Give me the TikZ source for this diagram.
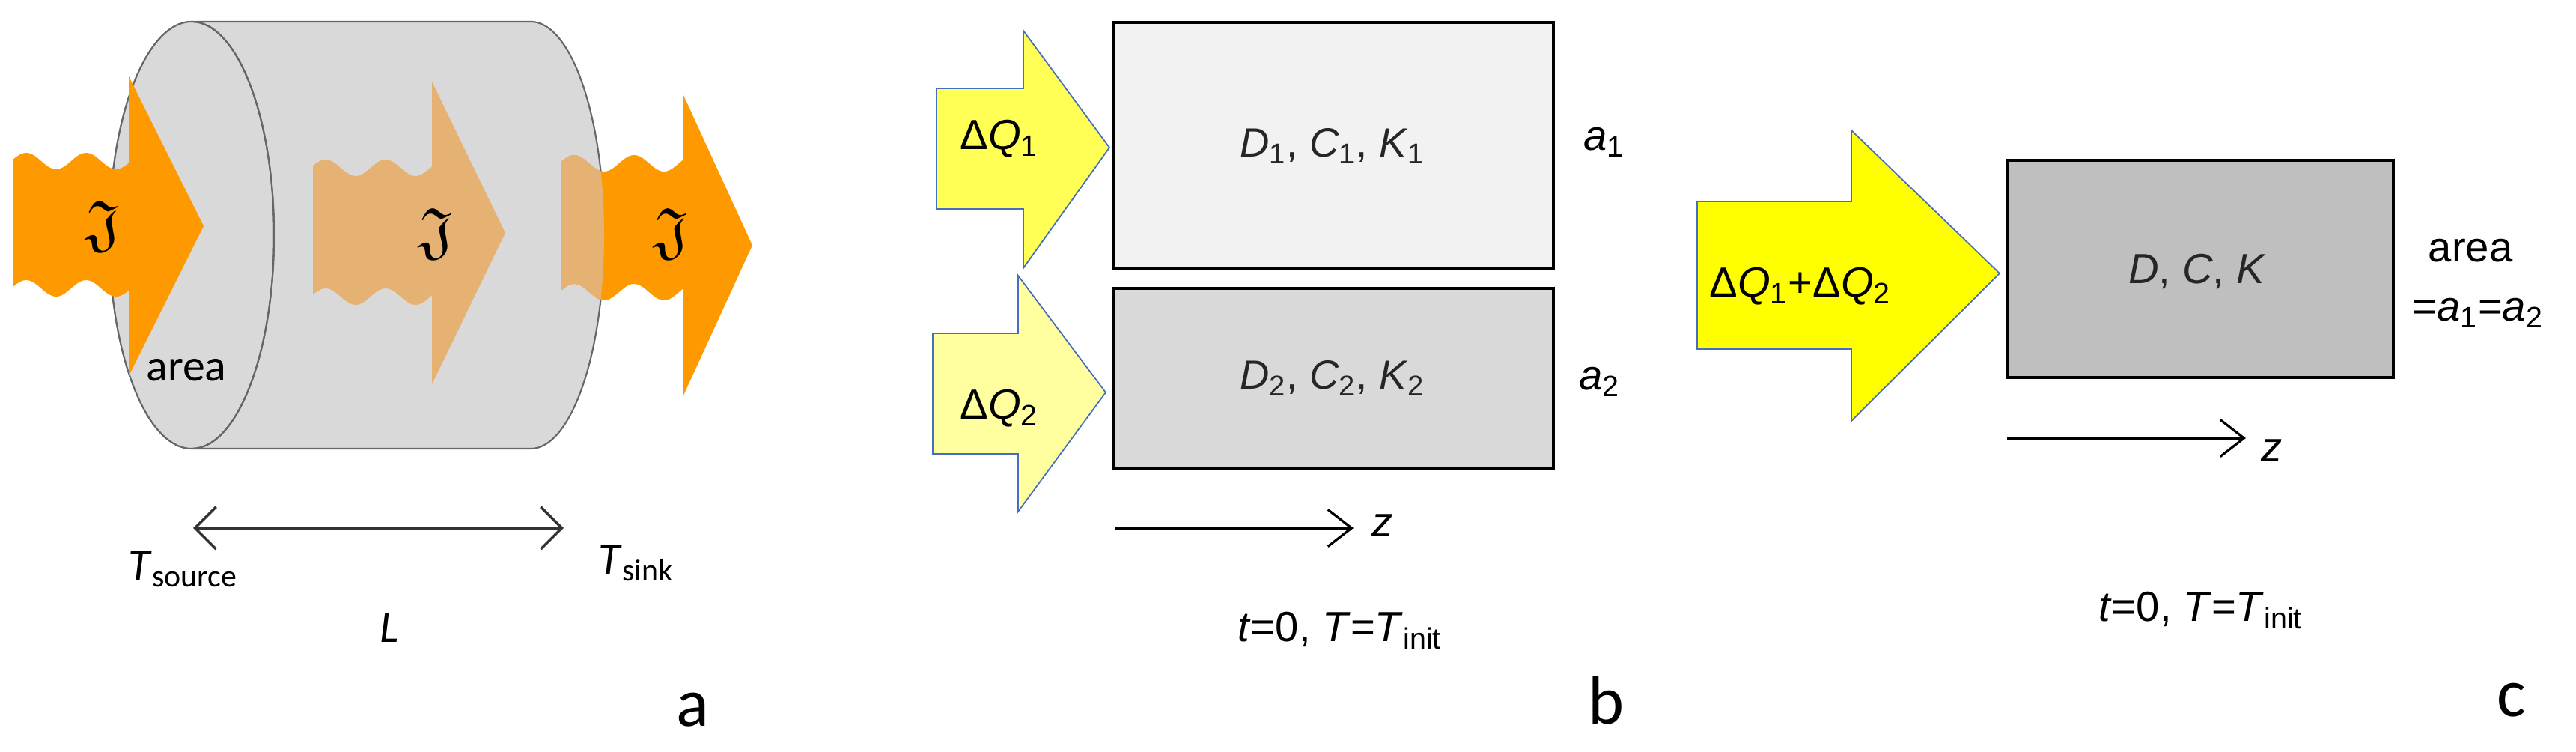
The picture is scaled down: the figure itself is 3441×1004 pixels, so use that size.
\documentclass[tikz,border=0pt]{standalone}
\usepackage{amssymb}
\usepackage{fontspec}
\setmainfont{Liberation Sans}
\newfontfamily\calfnt{Carlito}
\usetikzlibrary{arrows.meta}
\definecolor{orng}{RGB}{255,153,0}
\definecolor{fade}{RGB}{229,178,115}
\definecolor{cyl}{RGB}{217,217,217}
\definecolor{yA}{RGB}{255,255,85}
\definecolor{yB}{RGB}{255,255,160}
\definecolor{yC}{RGB}{255,255,0}
\definecolor{edge}{RGB}{70,110,190}
\tikzset{
  lbl/.style={inner sep=0pt,font=\fontsize{15.5}{18}\selectfont},
  blbl/.style={inner sep=0pt,font=\fontsize{16}{18}\selectfont},
  albl/.style={inner sep=0pt,font=\calfnt\fontsize{17}{19}\selectfont},
  panel/.style={inner sep=0pt,font=\calfnt\fontsize{26}{28}\selectfont},
  frak/.style={inner sep=0pt,font=\fontsize{24}{26}\selectfont},
  box/.style={draw=black,line width=1.2pt},
  harrow/.style={draw=edge,line width=0.5pt},
  zarr/.style={line width=0.9pt,-{Straight Barb[length=9pt,width=14pt,line width=0.9pt]}},
}
% wavy arrow: #1 x0, #2 x1, #3 tail top, #4 tail bottom, #5 head top, #6 head bottom, #7 tip x
\newcommand{\wavyarrow}[7]{%
  plot[domain=#1:#2,samples=60] (\x,{#3-11*cos((\x-#1-17)/80*360)}) --
  (#2,#5) -- (#7,{(#5+#6)/2}) -- (#2,#6) --
  plot[domain=#2:#1,samples=60] (\x,{#4-11*cos((\x-#1-17)/80*360)}) -- cycle}
\begin{document}
\begin{tikzpicture}[x=0.01cm,y=-0.01cm]
\useasboundingbox (0,0) rectangle (3441,1004);
% ---------- panel a ----------
\path[fill=cyl,draw=gray!80!black,line width=0.6pt]
  (256,29) -- (709,29) arc[start angle=-90,end angle=90,x radius=98,y radius=285]
  -- (256,599) arc[start angle=90,end angle=270,x radius=110,y radius=285] -- cycle;
\path[fill=cyl,draw=gray!80!black,line width=0.6pt] (256,314) ellipse[x radius=110,y radius=285];
\fill[orng] \wavyarrow{18}{172}{215}{385}{102}{502}{272};
\fill[fade] \wavyarrow{418}{577}{224}{396}{109}{513}{675};
\fill[orng] \wavyarrow{750}{912}{218}{390}{125}{530}{1005};
\begin{scope}
  \clip (600,29) -- (709,29) arc[start angle=-90,end angle=90,x radius=98,y radius=285] -- (600,599) -- cycle;
  \fill[fade] \wavyarrow{750}{912}{218}{390}{125}{530}{1005};
\end{scope}
\draw[gray!80!black,line width=0.6pt] (256,29) arc[start angle=-90,end angle=90,x radius=110,y radius=285];
\node[frak] (j1) at (138,303) {$\mathfrak{J}$};
\node[frak] (j2) at (583,313) {$\mathfrak{J}$};
\node[frak] (j3) at (897,313) {$\mathfrak{J}$};
\node[albl] (area) at (249,494) {area};
\coordinate (Ls) at (258,705);
\coordinate (Le) at (753,705);
\draw[line width=1pt,gray!40!black,{Straight Barb[length=8pt,width=16pt,line width=1pt]}-{Straight Barb[length=8pt,width=16pt,line width=1pt]}] (Ls) -- (Le);
\node[albl] (ts) at (245,760) {\textit{T}\textsubscript{source}};
\node[albl] (ll) at (520,838) {\textit{L}};
\node[albl] (tk) at (850,752) {\textit{T}\textsubscript{sink}};
\node[panel] (pa) at (925,948) {a};
% ---------- panel b ----------
\draw[harrow,fill=yA] (1251,118) -- (1367,118) -- (1367,41) -- (1482,197) -- (1367,358) -- (1367,279) -- (1251,279) -- cycle;
\draw[harrow,fill=yB] (1246,445) -- (1360,445) -- (1360,368) -- (1477,524) -- (1360,683) -- (1360,606) -- (1246,606) -- cycle;
\draw[box,fill=black!5] (1488,30) rectangle (2075,358);
\draw[box,fill=cyl] (1488,385) rectangle (2075,625);
\node[blbl] (q1) at (1335,185) {Δ\textit{Q}\textsubscript{1}};
\node[blbl] (q2) at (1335,545) {Δ\textit{Q}\textsubscript{2}};
\node[lbl,gray!30!black] (d1) at (1780,195) {\textit{D}\textsubscript{1}, \textit{C}\textsubscript{1}, \textit{K}\textsubscript{1}};
\node[lbl,gray!30!black] (d2) at (1780,505) {\textit{D}\textsubscript{2}, \textit{C}\textsubscript{2}, \textit{K}\textsubscript{2}};
\node[blbl] (a1) at (2143,190) {\textit{a}\textsubscript{1}};
\node[blbl] (a2) at (2137,510) {\textit{a}\textsubscript{2}};
\coordinate (zb0) at (1490,705);
\coordinate (zb1) at (1808,705);
\draw[zarr] (zb0) -- (zb1);
\node[blbl] (zb) at (1847,702) {\textit{z}};
\node[blbl] (tb) at (1790,842) {\textit{t}=0, \textit{T}=\textit{T}\textsubscript{init}};
\node[panel] (pb) at (2145,935) {b};
% ---------- panel c ----------
\draw[harrow,fill=yC] (2267,269) -- (2473,269) -- (2473,174) -- (2671,365) -- (2473,562) -- (2473,466) -- (2267,466) -- cycle;
\draw[box,fill=black!25] (2681,214) rectangle (3197,504);
\node[blbl] (q12) at (2405,382) {Δ\textit{Q}\textsubscript{1}+Δ\textit{Q}\textsubscript{2}};
\node[blbl,gray!30!black] (dc) at (2935,362) {\textit{D}, \textit{C}, \textit{K}};
\node[blbl] (ar) at (3300,335) {area};
\node[blbl] (aa) at (3310,418) {=\textit{a}\textsubscript{1}=\textit{a}\textsubscript{2}};
\coordinate (zc0) at (2681,585);
\coordinate (zc1) at (3000,585);
\draw[zarr] (zc0) -- (zc1);
\node[blbl] (zc) at (3035,602) {\textit{z}};
\node[blbl] (tc) at (2940,815) {\textit{t}=0, \textit{T}=\textit{T}\textsubscript{init}};
\node[panel] (pc) at (3355,935) {c};
\end{tikzpicture}
\end{document}
